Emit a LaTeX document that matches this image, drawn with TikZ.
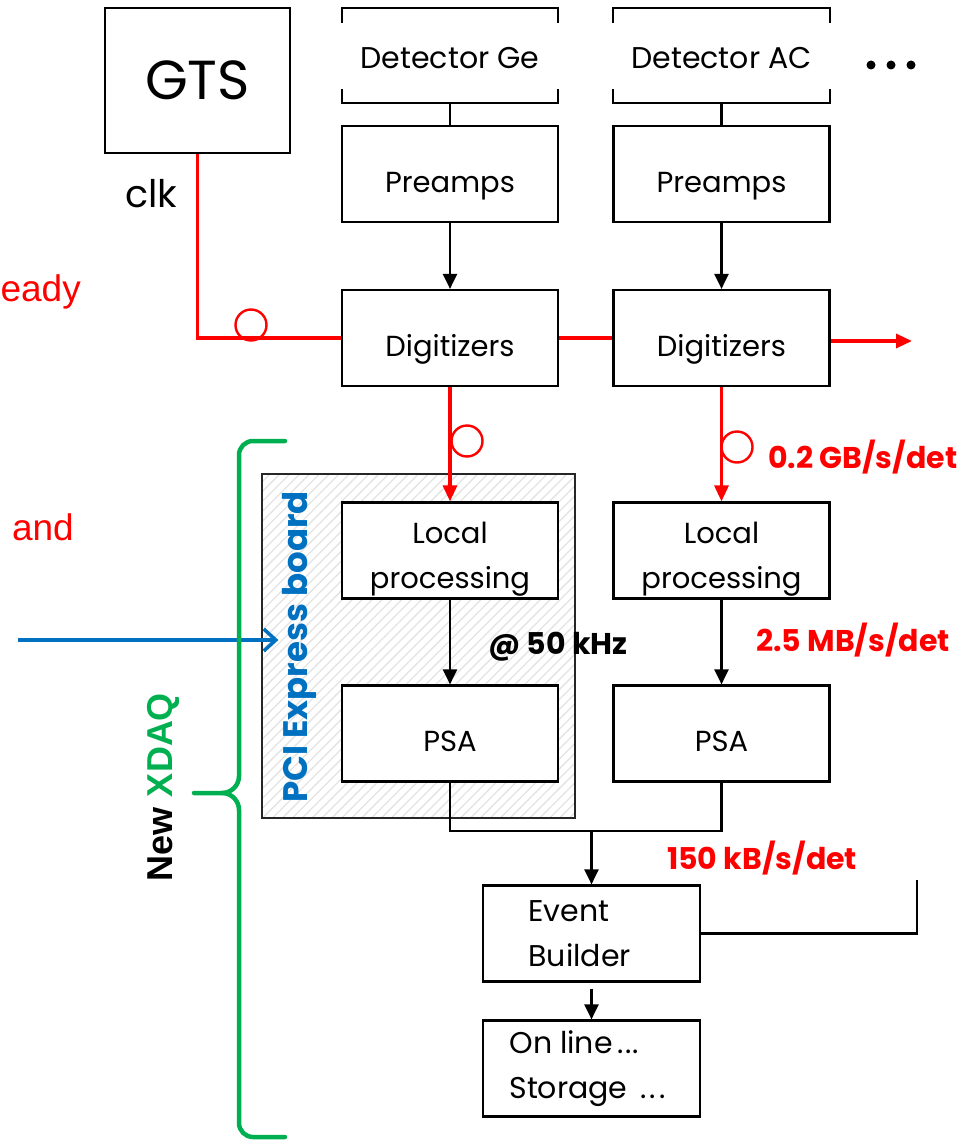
\documentclass[tikz,border=0pt]{standalone}
\usepackage{fontspec}
\setmainfont{Poppins}
\newfontfamily\arialf{Liberation Sans}
\usetikzlibrary{arrows.meta,patterns.meta}
\definecolor{xred}{RGB}{255,0,0}
\definecolor{xgreen}{RGB}{0,176,80}
\definecolor{xblue}{RGB}{0,112,192}
\tikzset{
  boxbase/.style={draw=black,line width=2.2pt,minimum width=216pt,minimum height=96pt,inner sep=0pt,
    font=\fontsize{29}{45}\selectfont},
  box/.style={boxbase,text height=40pt,text depth=4pt},
  box2/.style={boxbase,align=center,text height=79pt,text depth=4pt},
  blk/.style={line width=2.2pt,draw=black},
  blkarr/.style={blk,-{Triangle[length=15pt,width=14pt]}},
  redw/.style={line width=3.2pt,draw=xred},
  redarr/.style={redw,-{Triangle[length=16pt,width=14pt]}},
  ring/.style={circle,draw=xred,line width=2.4pt,minimum size=31pt,inner sep=0pt},
  rate/.style={text=xred,font=\fontsize{30}{34}\selectfont\bfseries},
  detbox/.style={minimum width=216pt,minimum height=95pt,inner sep=0pt,font=\fontsize{30}{34}\selectfont,
    text height=30pt,text depth=4pt},
}
\begin{document}
\begin{tikzpicture}[x=1pt,y=-1pt]
\useasboundingbox (0,0) rectangle (977,1140);
% PCI Express board background
\path[pattern={Lines[angle=45,distance=7pt,line width=1.3pt]},pattern color=gray!22]
  (262,474) rectangle (575,818);
\draw[line width=1.8pt,draw=black!85] (262,474) rectangle (575,818);
\node[rotate=90,text=xblue,font=\fontsize{34}{38}\selectfont\bfseries] (pci) at (299,647) {PCI Express board};

% GTS
\node[boxbase,minimum width=185pt,minimum height=145pt,font=\fontsize{55}{60}\selectfont] (gts) at (197.5,80.5) {GTS};
\node[font=\fontsize{38}{42}\selectfont] (clk) at (151,194) {clk};

% detectors
\node[detbox] (detge) at (450,55.5) {Detector Ge};
\node[detbox] (detac) at (721.5,55.5) {Detector AC};
\foreach \d in {detge,detac}{
  \draw[blk] ([yshift=-15pt]\d.north west) -- (\d.north west) -- (\d.north east) -- ([yshift=-15pt]\d.north east);
  \draw[blk] ([yshift=14pt]\d.south west) -- (\d.south west) -- (\d.south east) -- ([yshift=14pt]\d.south east);
}
\fill (871,65) circle (4.5pt) (891,65) circle (4.5pt) (911,65) circle (4.5pt);

% columns
\node[box] (prege) at (450,174) {Preamps};
\node[box] (preac) at (721.5,174) {Preamps};
\node[box] (digge) at (450,338) {Digitizers};
\node[box] (digac) at (721.5,338) {Digitizers};
\node[box2,fill=white] (lpge) at (450,550.5) {Local\\processing};
\node[box2] (lpac) at (721.5,550.5) {Local\\processing};
\node[box,fill=white] (psage) at (450,733.5) {PSA};
\node[box] (psaac) at (721.5,733.5) {PSA};

\node[boxbase,minimum width=217pt] (eb) at (591.5,933.5) {};
\node[anchor=west,font=\fontsize{30}{45}\selectfont,align=left] (ebt) at ([xshift=43pt]eb.west) {Event\\Builder};
\node[boxbase,minimum width=217pt] (st) at (591.5,1068.5) {};
\node[anchor=west,font=\fontsize{30}{45}\selectfont,align=left] (stt) at ([xshift=24pt]st.west) {On line\,.\kern1pt.\kern1pt.\\Storage \,.\kern3pt.\kern3pt.};

% black connectors
\draw[blk] (detge.south) -- (prege.north);
\draw[blk] (detac.south) -- (preac.north);
\draw[blkarr] (prege.south) -- (digge.north);
\draw[blkarr] (preac.south) -- (digac.north);
\draw[blkarr] (lpge.south) -- (psage.north);
\draw[blkarr] (lpac.south) -- (psaac.north);
\draw[blk] (psage.south) -- ++(0,48) coordinate (j1) -- (j1 -| psaac.south) -- (psaac.south);
\coordinate (j2) at (eb.north |- j1);
\draw[blkarr] (j2) -- (eb.north);
\draw[blkarr] ([yshift=-6pt]eb.south) -- (st.north);
\coordinate (ebout) at (917,880);
\draw[blk] (eb.east) -| (ebout);

% red connectors
\draw[redw] (gts.south) |- (digge.west);
\node[ring] (r1) at (251,325) {};
\draw[redw] (digge.east) -- (digac.west);
\coordinate (rout) at (912,341);
\draw[redarr] (digac.east |- rout) -- (rout);
\draw[redarr] (digge.south) -- (lpge.north);
\draw[redarr] (digac.south) -- (lpac.north);
\node[ring] (r2) at (467,441) {};
\node[ring] (r3) at (737,447) {};

% labels
\node[rate,anchor=west,inner sep=0pt] (l1) at (768,457) {0.2 GB/s/det};
\node[rate,anchor=west,inner sep=0pt] (l2) at (756,640) {2.5 MB/s/det};
\node[rate,anchor=west,inner sep=0pt] (l3) at (667,858) {150 kB/s/det};
\node[anchor=west,inner sep=0pt,font=\fontsize{30}{34}\selectfont\bfseries] (l4) at (488,647) {@ 50 kHz};

% left cut texts
\node[anchor=east,text=xred,font=\arialf\fontsize{37}{44}\selectfont,inner sep=0pt] (t1) at (81,292) {eady};
\node[anchor=east,text=xred,font=\arialf\fontsize{37}{44}\selectfont,inner sep=0pt] (t2) at (74,527) {and};

% blue arrow
\coordinate (bs) at (18,640);
\draw[line width=3.5pt,draw=xblue,-{Straight Barb[length=12pt,width=22pt,line width=3.5pt]}] (bs) -- (pci.north |- bs) ;

% green brace
\draw[line width=4.5pt,draw=xgreen,line cap=round]
  (285,441) -- (253,441) to[out=180,in=90] (239,455) -- (239,776)
  to[out=-90,in=0] (222,793) -- (194,793);
\draw[line width=4.5pt,draw=xgreen,line cap=round]
  (222,793) to[out=0,in=90] (239,810) -- (239,1123)
  to[out=-90,in=180] (253,1137) -- (285,1137);
\node[rotate=90,font=\arialf\fontsize{36}{40}\selectfont\bfseries] (xdaq) at (163,787) {New \textcolor{xgreen}{XDAQ}};
\end{tikzpicture}
\end{document}
